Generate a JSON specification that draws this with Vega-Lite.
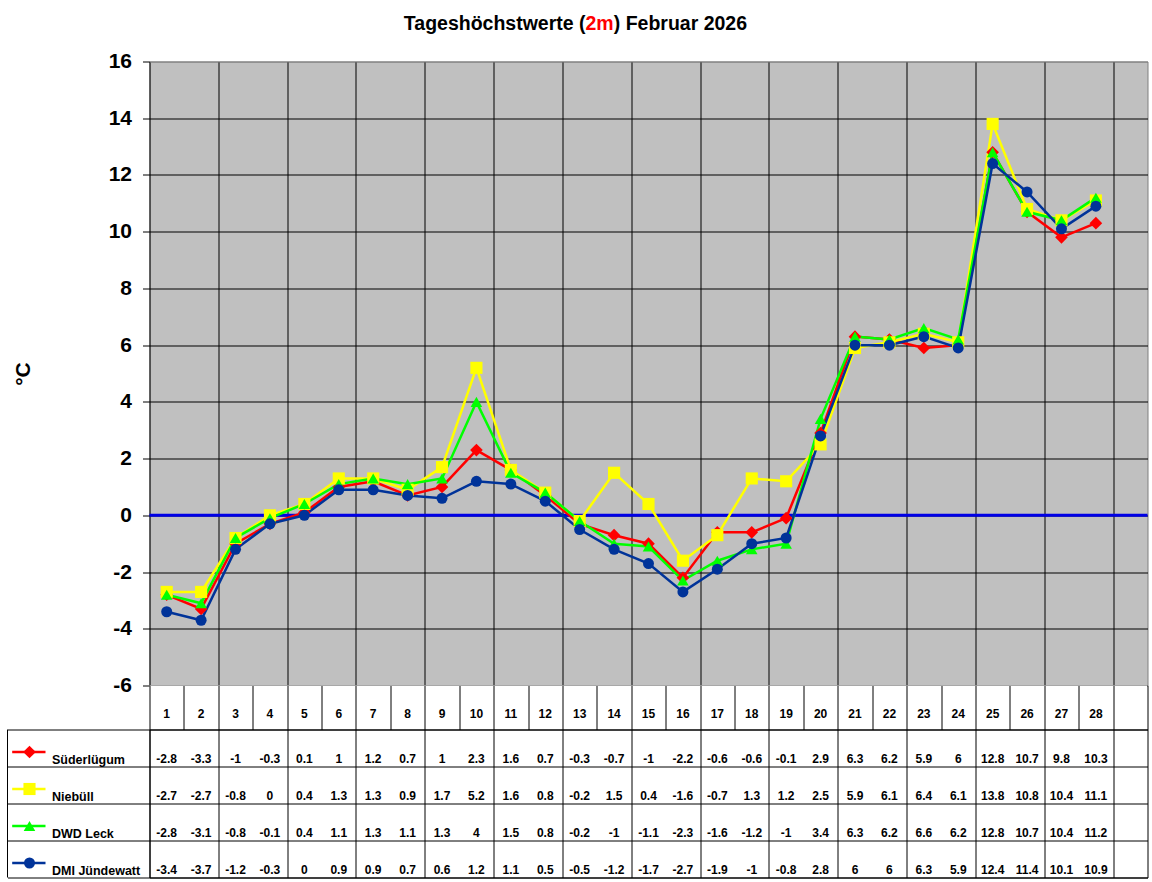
{
  "$schema": "https://vega.github.io/schema/vega-lite/v6.json",
  "padding": {"left": 6.5, "top": 13.5, "right": 5, "bottom": 5},
  "background": "white",
  "config": {"font": "Liberation Sans", "axis": {"gridOpacity": 1}},
  "datasets": {
    "temps": [
      {"station":"Süderlügum","day":1,"temp":-2.8},{"station":"Süderlügum","day":2,"temp":-3.3},{"station":"Süderlügum","day":3,"temp":-1},{"station":"Süderlügum","day":4,"temp":-0.3},{"station":"Süderlügum","day":5,"temp":0.1},{"station":"Süderlügum","day":6,"temp":1},{"station":"Süderlügum","day":7,"temp":1.2},{"station":"Süderlügum","day":8,"temp":0.7},{"station":"Süderlügum","day":9,"temp":1},{"station":"Süderlügum","day":10,"temp":2.3},{"station":"Süderlügum","day":11,"temp":1.6},{"station":"Süderlügum","day":12,"temp":0.7},{"station":"Süderlügum","day":13,"temp":-0.3},{"station":"Süderlügum","day":14,"temp":-0.7},{"station":"Süderlügum","day":15,"temp":-1},{"station":"Süderlügum","day":16,"temp":-2.2},{"station":"Süderlügum","day":17,"temp":-0.6},{"station":"Süderlügum","day":18,"temp":-0.6},{"station":"Süderlügum","day":19,"temp":-0.1},{"station":"Süderlügum","day":20,"temp":2.9},{"station":"Süderlügum","day":21,"temp":6.3},{"station":"Süderlügum","day":22,"temp":6.2},{"station":"Süderlügum","day":23,"temp":5.9},{"station":"Süderlügum","day":24,"temp":6},{"station":"Süderlügum","day":25,"temp":12.8},{"station":"Süderlügum","day":26,"temp":10.7},{"station":"Süderlügum","day":27,"temp":9.8},{"station":"Süderlügum","day":28,"temp":10.3},
      {"station":"Niebüll","day":1,"temp":-2.7},{"station":"Niebüll","day":2,"temp":-2.7},{"station":"Niebüll","day":3,"temp":-0.8},{"station":"Niebüll","day":4,"temp":0},{"station":"Niebüll","day":5,"temp":0.4},{"station":"Niebüll","day":6,"temp":1.3},{"station":"Niebüll","day":7,"temp":1.3},{"station":"Niebüll","day":8,"temp":0.9},{"station":"Niebüll","day":9,"temp":1.7},{"station":"Niebüll","day":10,"temp":5.2},{"station":"Niebüll","day":11,"temp":1.6},{"station":"Niebüll","day":12,"temp":0.8},{"station":"Niebüll","day":13,"temp":-0.2},{"station":"Niebüll","day":14,"temp":1.5},{"station":"Niebüll","day":15,"temp":0.4},{"station":"Niebüll","day":16,"temp":-1.6},{"station":"Niebüll","day":17,"temp":-0.7},{"station":"Niebüll","day":18,"temp":1.3},{"station":"Niebüll","day":19,"temp":1.2},{"station":"Niebüll","day":20,"temp":2.5},{"station":"Niebüll","day":21,"temp":5.9},{"station":"Niebüll","day":22,"temp":6.1},{"station":"Niebüll","day":23,"temp":6.4},{"station":"Niebüll","day":24,"temp":6.1},{"station":"Niebüll","day":25,"temp":13.8},{"station":"Niebüll","day":26,"temp":10.8},{"station":"Niebüll","day":27,"temp":10.4},{"station":"Niebüll","day":28,"temp":11.1},
      {"station":"DWD Leck","day":1,"temp":-2.8},{"station":"DWD Leck","day":2,"temp":-3.1},{"station":"DWD Leck","day":3,"temp":-0.8},{"station":"DWD Leck","day":4,"temp":-0.1},{"station":"DWD Leck","day":5,"temp":0.4},{"station":"DWD Leck","day":6,"temp":1.1},{"station":"DWD Leck","day":7,"temp":1.3},{"station":"DWD Leck","day":8,"temp":1.1},{"station":"DWD Leck","day":9,"temp":1.3},{"station":"DWD Leck","day":10,"temp":4},{"station":"DWD Leck","day":11,"temp":1.5},{"station":"DWD Leck","day":12,"temp":0.8},{"station":"DWD Leck","day":13,"temp":-0.2},{"station":"DWD Leck","day":14,"temp":-1},{"station":"DWD Leck","day":15,"temp":-1.1},{"station":"DWD Leck","day":16,"temp":-2.3},{"station":"DWD Leck","day":17,"temp":-1.6},{"station":"DWD Leck","day":18,"temp":-1.2},{"station":"DWD Leck","day":19,"temp":-1},{"station":"DWD Leck","day":20,"temp":3.4},{"station":"DWD Leck","day":21,"temp":6.3},{"station":"DWD Leck","day":22,"temp":6.2},{"station":"DWD Leck","day":23,"temp":6.6},{"station":"DWD Leck","day":24,"temp":6.2},{"station":"DWD Leck","day":25,"temp":12.8},{"station":"DWD Leck","day":26,"temp":10.7},{"station":"DWD Leck","day":27,"temp":10.4},{"station":"DWD Leck","day":28,"temp":11.2},
      {"station":"DMI Jündewatt","day":1,"temp":-3.4},{"station":"DMI Jündewatt","day":2,"temp":-3.7},{"station":"DMI Jündewatt","day":3,"temp":-1.2},{"station":"DMI Jündewatt","day":4,"temp":-0.3},{"station":"DMI Jündewatt","day":5,"temp":0},{"station":"DMI Jündewatt","day":6,"temp":0.9},{"station":"DMI Jündewatt","day":7,"temp":0.9},{"station":"DMI Jündewatt","day":8,"temp":0.7},{"station":"DMI Jündewatt","day":9,"temp":0.6},{"station":"DMI Jündewatt","day":10,"temp":1.2},{"station":"DMI Jündewatt","day":11,"temp":1.1},{"station":"DMI Jündewatt","day":12,"temp":0.5},{"station":"DMI Jündewatt","day":13,"temp":-0.5},{"station":"DMI Jündewatt","day":14,"temp":-1.2},{"station":"DMI Jündewatt","day":15,"temp":-1.7},{"station":"DMI Jündewatt","day":16,"temp":-2.7},{"station":"DMI Jündewatt","day":17,"temp":-1.9},{"station":"DMI Jündewatt","day":18,"temp":-1},{"station":"DMI Jündewatt","day":19,"temp":-0.8},{"station":"DMI Jündewatt","day":20,"temp":2.8},{"station":"DMI Jündewatt","day":21,"temp":6},{"station":"DMI Jündewatt","day":22,"temp":6},{"station":"DMI Jündewatt","day":23,"temp":6.3},{"station":"DMI Jündewatt","day":24,"temp":5.9},{"station":"DMI Jündewatt","day":25,"temp":12.4},{"station":"DMI Jündewatt","day":26,"temp":11.4},{"station":"DMI Jündewatt","day":27,"temp":10.1},{"station":"DMI Jündewatt","day":28,"temp":10.9}
    ]
  },
  "spacing": 0,
  "bounds": "flush",
  "resolve": {"scale": {"x": "independent", "y": "independent"}},
  "vconcat": [
    {
      "width": 998,
      "height": 624,
      "view": {"fill": "#C0C0C0", "stroke": "#808080", "strokeWidth": 1},
      "layer": [
        {
          "data": {"values": [{}]},
          "mark": {"type": "rule", "color": "#0000E6", "strokeWidth": 3},
          "encoding": {
            "y": {"datum": 0, "type": "quantitative"}
          }
        },
        {
          "data": {"name": "temps"},
          "mark": {"type": "line", "strokeWidth": 2.5},
          "encoding": {
            "x": {
              "field": "day", "type": "quantitative",
              "scale": {"domain": [0.5, 29.5], "nice": false, "zero": false},
              "axis": {
                "values": [0.5,1.5,2.5,3.5,4.5,5.5,6.5,7.5,8.5,9.5,10.5,11.5,12.5,13.5,14.5,15.5,16.5,17.5,18.5,19.5,20.5,21.5,22.5,23.5,24.5,25.5,26.5,27.5,28.5,29.5],
                "grid": true,
                "gridColor": {"condition": {"test": "datum.value === 29.5", "value": "#808080"}, "value": "black"},
                "gridWidth": 1,
                "domain": false, "ticks": false, "labels": false,
                "title": null
              }
            },
            "y": {
              "field": "temp", "type": "quantitative",
              "scale": {"domain": [-6, 16], "nice": false, "zero": false},
              "axis": {
                "values": [-6,-4,-2,0,2,4,6,8,10,12,14,16],
                "grid": true,
                "gridColor": {"condition": {"test": "datum.value === 16", "value": "#808080"}, "value": "black"},
                "gridWidth": 1,
                "domain": false,
                "tickSize": 7, "tickColor": "black", "tickWidth": 1,
                "labelExpr": "'' + datum.value",
                "labelPadding": 11,
                "labelFont": "Liberation Sans", "labelFontWeight": "bold", "labelFontSize": 21, "labelColor": "black",
                "labelOverlap": false, "labelFlush": false,
                "title": "°C",
                "titleFont": "Liberation Sans", "titleFontWeight": "bold", "titleFontSize": 21, "titleColor": "black",
                "titlePadding": 75
              }
            },
            "color": {
              "field": "station", "type": "nominal",
              "scale": {"domain": ["Süderlügum","Niebüll","DWD Leck","DMI Jündewatt"], "range": ["#FF0000","#FFFF00","#00FF00","#003399"]},
              "legend": null
            }
          }
        },
        {
          "data": {"name": "temps"},
          "mark": {"type": "point", "filled": true, "opacity": 1, "strokeWidth": 0},
          "encoding": {
            "x": {"field": "day", "type": "quantitative"},
            "y": {"field": "temp", "type": "quantitative"},
            "color": {"field": "station", "type": "nominal", "legend": null},
            "shape": {
              "field": "station", "type": "nominal",
              "scale": {"domain": ["Süderlügum","Niebüll","DWD Leck","DMI Jündewatt"], "range": ["diamond","square","triangle-up","circle"]},
              "legend": null
            },
            "size": {
              "field": "station", "type": "nominal",
              "scale": {"domain": ["Süderlügum","Niebüll","DWD Leck","DMI Jündewatt"], "range": [160,121,130,110]},
              "legend": null
            }
          }
        },
        {
          "data": {"values": [{}]},
          "mark": {"type": "text", "text": "Tageshöchstwerte (", "align": "right", "baseline": "alphabetic", "font": "Liberation Sans", "fontWeight": "bold", "fontSize": 19.5, "color": "black"},
          "encoding": {"x": {"datum": 13.17, "type": "quantitative"}, "y": {"datum": 17.11, "type": "quantitative"}}
        },
        {
          "data": {"values": [{}]},
          "mark": {"type": "text", "text": "2m", "align": "left", "baseline": "alphabetic", "font": "Liberation Sans", "fontWeight": "bold", "fontSize": 19.5, "color": "#FF0000"},
          "encoding": {"x": {"datum": 13.17, "type": "quantitative"}, "y": {"datum": 17.11, "type": "quantitative"}}
        },
        {
          "data": {"values": [{}]},
          "mark": {"type": "text", "text": ") Februar 2026", "align": "left", "baseline": "alphabetic", "font": "Liberation Sans", "fontWeight": "bold", "fontSize": 19.5, "color": "black"},
          "encoding": {"x": {"datum": 13.99, "type": "quantitative"}, "y": {"datum": 17.11, "type": "quantitative"}}
        }
      ]
    },
    {
      "width": 998,
      "height": 44,
      "view": {"fill": "white", "stroke": null},
      "data": {"name": "temps"},
      "transform": [{"filter": "datum.station === 'Süderlügum'"}],
      "mark": {"type": "text", "font": "Liberation Sans", "fontWeight": "bold", "fontSize": 12, "baseline": "middle", "dy": 6, "color": "black"},
      "encoding": {
        "x": {
          "field": "day", "type": "quantitative",
          "scale": {"domain": [0.5, 29.5], "nice": false, "zero": false},
          "axis": {
            "values": [0.5,1.5,2.5,3.5,4.5,5.5,6.5,7.5,8.5,9.5,10.5,11.5,12.5,13.5,14.5,15.5,16.5,17.5,18.5,19.5,20.5,21.5,22.5,23.5,24.5,25.5,26.5,27.5,28.5,29.5],
            "grid": true, "gridColor": "black", "gridWidth": 1,
            "ticks": false, "labels": false, "domain": false, "title": null
          }
        },
        "text": {"field": "day", "type": "nominal"}
      }
    },
    {
      "width": 998,
      "height": 148,
      "view": {"fill": "white", "stroke": "black", "strokeWidth": 1},
      "layer": [
        {
          "data": {"values": [{}]},
          "mark": {"type": "rule", "color": "black", "strokeWidth": 1},
          "encoding": {"x": {"datum": -3.626, "type": "quantitative", "scale": {"domain": [0.5, 29.5], "nice": false, "zero": false}}}
        },
        {
          "data": {"name": "temps"},
          "transform": [{"filter": "datum.day === 1"}],
          "mark": {"type": "rule", "strokeWidth": 2.7},
          "encoding": {
            "x": {"datum": -3.49, "type": "quantitative"},
            "x2": {"datum": -2.522},
            "y": {"field": "station", "type": "nominal"},
            "yOffset": {"value": 22.5},
            "color": {"field": "station", "type": "nominal", "legend": null}
          }
        },
        {
          "data": {"name": "temps"},
          "transform": [{"filter": "datum.day === 1"}],
          "mark": {"type": "point", "filled": true, "opacity": 1, "strokeWidth": 0},
          "encoding": {
            "x": {"datum": -2.987, "type": "quantitative"},
            "y": {"field": "station", "type": "nominal"},
            "yOffset": {"value": 22.5},
            "color": {"field": "station", "type": "nominal", "legend": null},
            "shape": {"field": "station", "type": "nominal", "scale": {"domain": ["Süderlügum","Niebüll","DWD Leck","DMI Jündewatt"], "range": ["diamond","square","triangle-up","circle"]}, "legend": null},
            "size": {"field": "station", "type": "nominal", "scale": {"domain": ["Süderlügum","Niebüll","DWD Leck","DMI Jündewatt"], "range": [130,100,110,95]}, "legend": null}
          }
        },
        {
          "data": {"name": "temps"},
          "mark": {"type": "text", "font": "Liberation Sans", "fontWeight": "bold", "fontSize": 12, "baseline": "middle", "dy": 11, "color": "black"},
          "encoding": {
            "x": {
              "field": "day", "type": "quantitative",
              "axis": {
                "values": [0.5,1.5,2.5,3.5,4.5,5.5,6.5,7.5,8.5,9.5,10.5,11.5,12.5,13.5,14.5,15.5,16.5,17.5,18.5,19.5,20.5,21.5,22.5,23.5,24.5,25.5,26.5,27.5,28.5,29.5],
                "grid": true, "gridColor": "black", "gridWidth": 1,
                "ticks": false, "labels": false, "domain": false, "title": null
              }
            },
            "y": {
              "field": "station", "type": "nominal",
              "sort": ["Süderlügum","Niebüll","DWD Leck","DMI Jündewatt"],
              "scale": {"domain": ["Süderlügum","Niebüll","DWD Leck","DMI Jündewatt"], "paddingInner": 0, "paddingOuter": 0},
              "axis": {
                "orient": "left",
                "tickBand": "extent",
                "tickSize": 142, "tickColor": "black", "tickWidth": 1,
                "grid": true, "gridColor": "black", "gridWidth": 1,
                "domain": false,
                "labelAlign": "left", "labelPadding": -44, "labelBaseline": "middle", "labelOffset": 11,
                "labelFont": "Liberation Sans", "labelFontWeight": "bold", "labelFontSize": 12.5, "labelColor": "black",
                "labelLimit": 0,
                "title": null
              }
            },
            "text": {"field": "temp", "type": "nominal"}
          }
        }
      ]
    }
  ]
}
